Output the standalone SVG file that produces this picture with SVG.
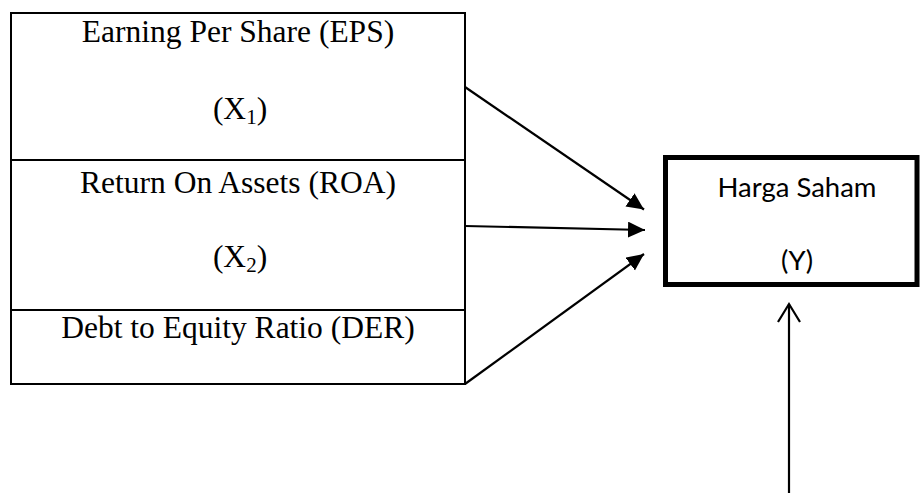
<svg xmlns="http://www.w3.org/2000/svg" width="922" height="493" viewBox="0 0 922 493">
  <defs>
    <style>
      .serif { font-family: "Liberation Serif", "Times New Roman", serif; font-size: 31.5px; fill: #000; }
      .sans { font-family: Lato, "Open Sans", "Liberation Sans", sans-serif; font-size: 27.5px; fill: #000; }
      .box { fill: #fff; stroke: #000; stroke-width: 2; }
      .thick { fill: #fff; stroke: #000; stroke-width: 5; }
      .edge { fill: none; stroke: #000; stroke-width: 2.2; }
    </style>
    <marker id="head" markerUnits="userSpaceOnUse" markerWidth="22" markerHeight="22" refX="17" refY="8" orient="auto">
      <path d="M0,0 L17,8 L0,16 Z" fill="#000"/>
    </marker>
  </defs>

  <!-- independent variables -->
  <g id="eps">
    <rect class="box" x="11" y="13" width="454" height="147"/>
    <text class="serif" x="238" y="42" text-anchor="middle">Earning Per Share (EPS)</text>
    <text class="serif" x="240" y="119" text-anchor="middle">(X<tspan font-size="21" dy="5">1</tspan><tspan dy="-5">)</tspan></text>
  </g>
  <g id="roa">
    <rect class="box" x="11" y="160" width="454" height="150"/>
    <text class="serif" x="238" y="193" text-anchor="middle">Return On Assets (ROA)</text>
    <text class="serif" x="240" y="267" text-anchor="middle">(X<tspan font-size="21" dy="5">2</tspan><tspan dy="-5">)</tspan></text>
  </g>
  <g id="der">
    <rect class="box" x="11" y="310" width="454" height="74"/>
    <text class="serif" x="238" y="338" text-anchor="middle">Debt to Equity Ratio (DER)</text>
  </g>

  <!-- dependent variable -->
  <g id="harga-saham">
    <rect class="thick" x="665.5" y="157.5" width="251.5" height="127"/>
    <text class="sans" x="797" y="197" text-anchor="middle">Harga Saham</text>
    <text class="sans" x="797" y="270" text-anchor="middle">(Y)</text>
  </g>

  <!-- connectors -->
  <g id="connectors">
    <line class="edge" x1="465" y1="87" x2="644" y2="209.5" marker-end="url(#head)"/>
    <line class="edge" x1="465" y1="226" x2="645" y2="230" marker-end="url(#head)"/>
    <line class="edge" x1="465" y1="384" x2="644" y2="254" marker-end="url(#head)"/>
    <line class="edge" x1="789" y1="493" x2="789" y2="304"/>
    <polyline class="edge" points="778,322 789,304 800,322"/>
  </g>
</svg>
